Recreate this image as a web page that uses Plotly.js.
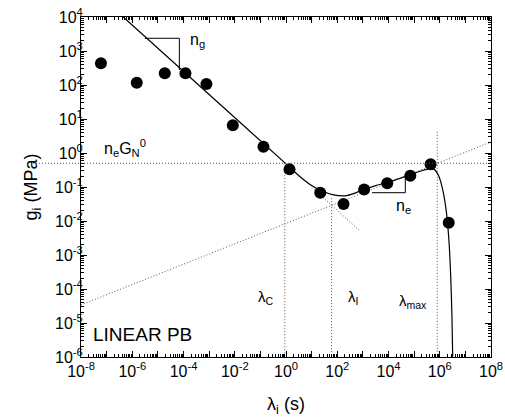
<!DOCTYPE html>
<html>
<head>
<meta charset="utf-8">
<script src="https://cdn.plot.ly/plotly-3.0.1.min.js"></script>
<style>
  html, body { margin: 0; padding: 0; background: #fff; }
  #plot { width: 505px; height: 417px; }
</style>
</head>
<body>
<div id="plot"></div>
<script>
// Discrete relaxation spectrum g_i(lambda_i) of linear polybutadiene

// Spectrum points
const lambdaData = [6.0e-8, 1.5e-6, 1.86e-5, 1.19e-4, 7.85e-4, 8.4e-3, 0.132, 1.37, 21.7, 176, 1.12e3, 8.9e3, 7.1e4, 4.4e5, 2.24e6];
const gData      = [435, 117, 221, 221, 107, 6.5, 1.53, 0.33, 0.068, 0.0316, 0.085, 0.129, 0.215, 0.47, 0.0089];

// Fitted continuous spectrum
const fitLambda = [4.47e-7, 1e-3, 1, 3.55, 10, 25, 71, 200, 500, 1.07e3, 3.16e3, 8.9e3, 3.16e4, 7.9e4, 2e5, 4e5, 6e5, 8.9e5, 1.32e6, 1.86e6, 2.34e6, 2.7e6, 2.99e6, 3.2e6];
const fitG      = [1e4, 52.5, 0.48, 0.2, 0.11, 0.076, 0.059, 0.055, 0.066, 0.085, 0.11, 0.135, 0.186, 0.235, 0.30, 0.34, 0.33, 0.22, 0.079, 0.0158, 2e-3, 2e-4, 1.6e-5, 1e-6];

// Guide lines
const plateauG = 0.5;                       // n_e G_N^0
const neLineLambda = [1e-8, 1e8];
const neLineG      = [3.4e-5, 2.11];
const ngExtLambda  = [10, 800];
const ngExtG       = [0.099, 5.0e-3];
const markLambda = [0.9, 60, 8e5];          // lambda_C, lambda_I, lambda_max
const markTopG   = [0.5, 0.047, 4.2];
const axisBottomG = 1e-6;

// Slope triangles
const ngTriLambda = [3.09e-6, 6.9e-5, 6.9e-5];
const ngTriG      = [2365, 2365, 276];
const neTriLambda = [2.26e3, 4.53e4, 4.53e4];
const neTriG      = [0.068, 0.068, 0.225];

const X_RANGE = [-8, 8];
const Y_RANGE = [-6, 4];

const FONT = 'Liberation Sans, Arial, Helvetica, sans-serif';
const dotted = { color: '#555', width: 1, dash: '1px,2px' };

const traces = [];

// n_e reference line and the n_g asymptote past the minimum
traces.push({ x: neLineLambda, y: neLineG, mode: 'lines', line: dotted, hoverinfo: 'skip' });
traces.push({ x: ngExtLambda, y: ngExtG, mode: 'lines', line: dotted, hoverinfo: 'skip' });
markLambda.forEach((lam, i) => {
  traces.push({ x: [lam, lam], y: [markTopG[i], axisBottomG], mode: 'lines', line: dotted, hoverinfo: 'skip' });
});

traces.push({ x: ngTriLambda, y: ngTriG, mode: 'lines', line: { color: '#000', width: 1 }, hoverinfo: 'skip' });
traces.push({ x: neTriLambda, y: neTriG, mode: 'lines', line: { color: '#000', width: 1 }, hoverinfo: 'skip' });

traces.push({
  x: fitLambda, y: fitG, mode: 'lines',
  line: { color: '#000', width: 1.2, shape: 'spline', smoothing: 0.6 },
  hoverinfo: 'skip'
});

traces.push({
  x: lambdaData, y: gData, mode: 'markers',
  marker: { color: '#000', size: 12 },
  cliponaxis: false
});

// log-axis tick labels: every decade ticked, every `step`-th decade labelled
function decadeTicks(lo, hi, step) {
  const vals = [], text = [];
  for (let k = lo; k <= hi; k++) {
    vals.push(Math.pow(10, k));
    text.push(((k - lo) % step === 0) ? '10<sup>' + k + '</sup>' : '');
  }
  return { vals, text };
}
const xt = decadeTicks(X_RANGE[0], X_RANGE[1], 2);
const yt = decadeTicks(Y_RANGE[0], Y_RANGE[1], 1);

const axisCommon = {
  type: 'log',
  showline: true, linecolor: '#000', linewidth: 1,
  mirror: 'allticks',
  ticks: 'inside', ticklen: 6, tickwidth: 1, tickcolor: '#000',
  showgrid: false, zeroline: false,
  tickfont: { family: FONT, size: 16, color: '#000' },
  minor: { ticks: 'inside', ticklen: 3, tickwidth: 1, tickcolor: '#000', dtick: 'D1', showgrid: false }
};

// plateau line runs a little past the left axis, so place it in paper units
const plateauPaperY = (Math.log10(plateauG) - Y_RANGE[0]) / (Y_RANGE[1] - Y_RANGE[0]);

const layout = {
  width: 505, height: 417,
  margin: { l: 81, r: 14, t: 17, b: 60 },
  paper_bgcolor: '#fff', plot_bgcolor: '#fff',
  showlegend: false,
  font: { family: FONT, color: '#000' },
  xaxis: Object.assign({}, axisCommon, {
    range: X_RANGE,
    tickmode: 'array', tickvals: xt.vals, ticktext: xt.text,
    title: { text: 'λ<sub>i</sub> (s)', font: { family: FONT, size: 18, color: '#000' }, standoff: 20 }
  }),
  yaxis: Object.assign({}, axisCommon, {
    range: Y_RANGE,
    tickmode: 'array', tickvals: yt.vals, ticktext: yt.text,
    ticklabelstandoff: -6,
    title: { text: 'g<sub>i</sub> (MPa)', font: { family: FONT, size: 18, color: '#000' }, standoff: 12 }
  }),
  shapes: [
    { type: 'line', xref: 'paper', yref: 'paper', x0: -0.117, x1: 1, y0: plateauPaperY, y1: plateauPaperY,
      layer: 'above', line: { color: '#555', width: 1, dash: '1px,2px' } }
  ],
  annotations: [
    { text: 'n<sub>g</sub>', x: -3.45, y: 3.3, xref: 'x', yref: 'y', showarrow: false,
      font: { family: FONT, size: 16 } },
    { text: 'n<sub>e</sub>G<sub>N</sub><sup>0</sup>', x: -6.28, y: 0.15, xref: 'x', yref: 'y', showarrow: false,
      font: { family: FONT, size: 16 } },
    { text: 'n<sub>e</sub>', x: 4.6, y: -1.56, xref: 'x', yref: 'y', showarrow: false,
      font: { family: FONT, size: 16 } },
    { text: 'λ<sub>C</sub>', x: -0.8, y: -4.26, xref: 'x', yref: 'y', showarrow: false,
      font: { family: FONT, size: 15 } },
    { text: 'λ<sub>I</sub>', x: 2.6, y: -4.26, xref: 'x', yref: 'y', showarrow: false,
      font: { family: FONT, size: 15 } },
    { text: 'λ<sub>max</sub>', x: 4.95, y: -4.36, xref: 'x', yref: 'y', showarrow: false,
      font: { family: FONT, size: 15 } },
    { text: 'LINEAR PB', x: -7.6, y: -5.35, xref: 'x', yref: 'y', xanchor: 'left', showarrow: false,
      font: { family: FONT, size: 19 } }
  ]
};

Plotly.newPlot('plot', traces, layout, { displayModeBar: false, staticPlot: true });
</script>
</body>
</html>
